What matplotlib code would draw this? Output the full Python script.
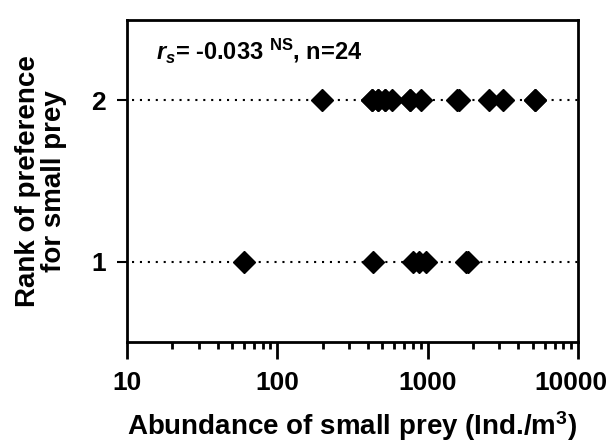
import matplotlib
matplotlib.use("Agg")
import matplotlib.pyplot as plt
import matplotlib.transforms as mtransforms
from matplotlib.ticker import LogLocator, NullFormatter, FixedLocator

plt.rcParams['font.family'] = ['Liberation Sans', 'DejaVu Sans']
plt.rcParams['mathtext.fontset'] = 'custom'
plt.rcParams['mathtext.rm'] = 'Liberation Sans:bold'
plt.rcParams['mathtext.it'] = 'Liberation Sans:bold:italic'
plt.rcParams['mathtext.bf'] = 'Liberation Sans:bold'

# Data
rank2_abundance = [197, 425, 425, 468, 468, 520, 520, 580, 764, 764, 904,
                   1560, 1620, 2540, 3190, 5190, 5190]
rank1_abundance = [60, 430, 800, 880, 980, 1800, 1860]
ranks = [1, 2]
xticks = [10, 100, 1000, 10000]
xtick_labels = ["10", "100", "1000", "10000"]

fig = plt.figure(figsize=(6.12, 4.42), dpi=100)
ax = fig.add_axes([0.2075, 0.226, 0.737, 0.729])

for r in ranks:
    ax.axhline(r, xmin=0.01, color='black', linestyle=(0, (1, 2.8)),
               linewidth=1.5, zorder=1)

ax.plot(rank2_abundance, [2] * len(rank2_abundance), 'D', color='black',
        markersize=11.5, zorder=3)
ax.plot(rank1_abundance, [1] * len(rank1_abundance), 'D', color='black',
        markersize=11.5, zorder=3)

ax.set_xscale('log')
ax.set_xlim(10, 10000)
ax.set_ylim(0.5, 2.5)
ax.xaxis.set_major_locator(FixedLocator(xticks))
ax.set_xticklabels(xtick_labels)
ax.xaxis.set_minor_locator(LogLocator(base=10, subs=range(2, 10)))
ax.xaxis.set_minor_formatter(NullFormatter())
ax.set_yticks(ranks)
ax.set_yticklabels([str(r) for r in ranks])

for s in ax.spines.values():
    s.set_linewidth(2.0)

ax.tick_params(axis='x', which='major', direction='out', length=12, width=2,
               labelsize=19, pad=9)
ax.tick_params(axis='x', which='minor', direction='out', length=5, width=2)
ax.tick_params(axis='y', which='major', direction='out', length=7, width=1.5,
               labelsize=19, pad=8)
for lab in ax.get_xticklabels() + ax.get_yticklabels():
    lab.set_fontweight('bold')

# keep the last x tick label inside the figure
last = ax.get_xticklabels()[-1]
last.set_transform(last.get_transform() +
                   mtransforms.ScaledTranslation(-5 / 72, 0, fig.dpi_scale_trans))

ax.set_xlabel('Abundance of small prey (Ind./m$\\mathregular{^3}$)',
              fontsize=20, fontweight='bold', labelpad=10)
ax.set_ylabel('Rank of preference\nfor small prey', fontsize=20,
              fontweight='bold', labelpad=18, linespacing=1.0)

ax.text(0.065, 0.905, r'$r_s$= -0.033 $^{\mathregular{NS}}$, n=24',
        transform=ax.transAxes, fontsize=17, fontweight='bold',
        ha='left', va='center')

fig.savefig('out.png', dpi=100)
